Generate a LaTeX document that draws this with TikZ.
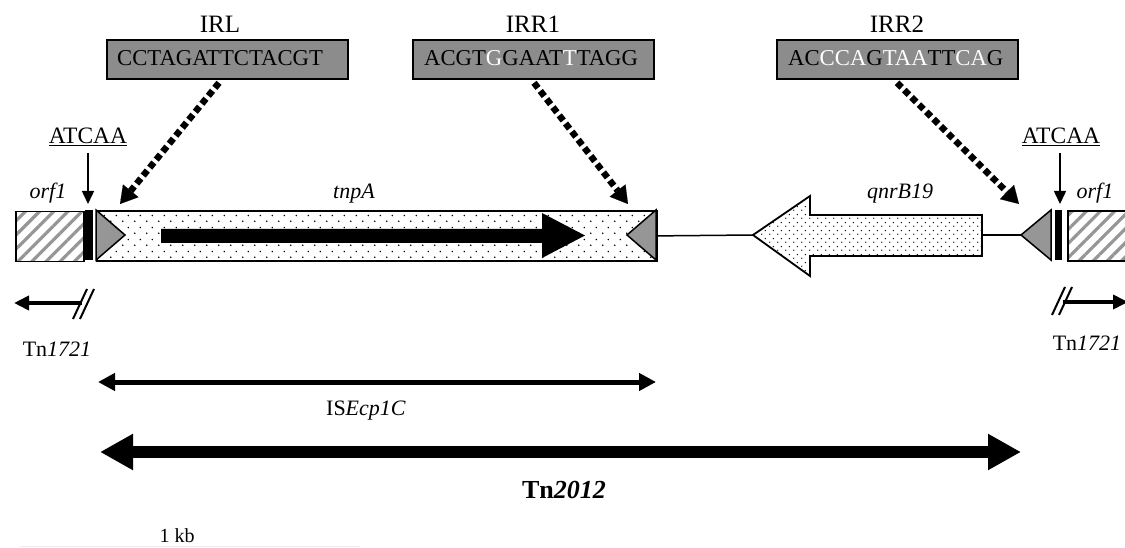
\documentclass[tikz,border=0pt]{standalone}
\usepackage{fontspec}
\setmainfont{Liberation Serif}
\usetikzlibrary{arrows.meta,patterns,patterns.meta}
\definecolor{boxgray}{RGB}{140,140,140}
\definecolor{trigray}{RGB}{150,150,150}
\definecolor{hatchgray}{RGB}{150,150,150}
\pgfdeclarepatternformonly{sparsedots}{\pgfqpoint{0pt}{0pt}}{\pgfqpoint{12pt}{12pt}}{\pgfqpoint{12pt}{12pt}}{%
  \pgfpathcircle{\pgfqpoint{3pt}{3pt}}{0.9pt}%
  \pgfpathcircle{\pgfqpoint{9pt}{9pt}}{0.9pt}%
  \pgfusepath{fill}}
\pgfdeclarepatternformonly{densedots}{\pgfqpoint{0pt}{0pt}}{\pgfqpoint{8pt}{8pt}}{\pgfqpoint{8pt}{8pt}}{%
  \pgfpathcircle{\pgfqpoint{2pt}{2pt}}{0.8pt}%
  \pgfpathcircle{\pgfqpoint{6pt}{6pt}}{0.8pt}%
  \pgfusepath{fill}}
\tikzset{
  txt/.style={inner sep=0pt, anchor=base, font=\fontsize{22}{24}\selectfont},
  irlabel/.style={txt, font=\fontsize{25}{28}\selectfont},
  seqbox/.style={draw, line width=1.8pt, fill=boxgray, minimum width=241pt, minimum height=39pt, inner sep=0pt, anchor=north west},
  seqtext/.style={inner sep=0pt, anchor=west, font=\fontsize{22.7}{24}\selectfont},
  genebox/.style={draw, line width=1.8pt, minimum height=50pt, inner sep=0pt, anchor=north west},
  hatchbox/.style={genebox, pattern={Lines[angle=45,distance=10pt,line width=3.2pt]}, pattern color=hatchgray},
  dotarrow/.style={line width=6.5pt, dash pattern=on 6.5pt off 3.8pt, -{Triangle[length=17pt,width=20pt,line width=0.1pt]}},
  thinarrow/.style={line width=1.5pt, -{Triangle[length=13pt,width=12pt]}},
  irtri/.style={draw, line width=1.5pt, fill=trigray, line join=miter},
  junction/.style={line width=1.5pt},
  isarrow/.style={line width=5pt, {Triangle[length=17pt,width=17pt]}-{Triangle[length=17pt,width=17pt]}},
  tnarrow/.style={line width=12pt, {Triangle[length=33pt,width=34pt]}-{Triangle[length=33pt,width=34pt]}},
  flankarrow/.style={line width=4pt, -{Triangle[length=15pt,width=14pt]}},
  slash/.style={line width=2pt}
}
\begin{document}
\begin{tikzpicture}[x=1pt,y=-1pt]
\useasboundingbox (0,0) rectangle (1125,548);

% sequence boxes
\node[irlabel] (lirl) at (220,33) {IRL};
\node[irlabel] (lirr1) at (533,33) {IRR1};
\node[irlabel] (lirr2) at (897,33) {IRR2};
\node[seqbox] (irl) at (106,39) {};
\node[seqbox] (irr1) at (412,39) {};
\node[seqbox] (irr2) at (776,39) {};
\node[seqtext] (sirl) at ([xshift=11pt,yshift=1pt]irl.west) {CCTAGATTCTACGT};
\node[seqtext] (sirr1) at ([xshift=12pt,yshift=1pt]irr1.west) {ACGT\textcolor{white}{G}GAAT\textcolor{white}{T}TAGG};
\node[seqtext] (sirr2) at ([xshift=12pt,yshift=1pt]irr2.west) {AC\textcolor{white}{CCA}G\textcolor{white}{TAA}TT\textcolor{white}{CA}G};

% gene boxes
\node[hatchbox, minimum width=68pt] (orfL) at (14,210) {};
\fill (85,210) rectangle (93,260);
\node[genebox, minimum width=560pt, pattern=sparsedots] (tnpA) at (96,210) {};
\draw[irtri] (96,210) -- (125,235) -- (96,260) -- cycle;
\draw[irtri] (656,210) -- (627,235) -- (656,260) -- cycle;
\fill (161,229) -- (542,229) -- (542,213) -- (585,235.5) -- (542,258) -- (542,243) -- (161,243) -- cycle;

\coordinate (qtip) at (753,235);
\coordinate (qend) at (982,235);
\draw[line width=1.8pt, pattern=densedots, line join=miter] (qtip) -- (810,196) -- (810,215) -- (982,215) -- (982,256) -- (810,256) -- (810,276) -- cycle;
\coordinate (rtip) at (1021,235);
\draw[irtri] (1051,210) -- (rtip) -- (1051,260) -- cycle;
\fill (1055,210) rectangle (1062,260);
\node[hatchbox, minimum width=80pt] (orfR) at (1067,210) {};

\draw[junction] (tnpA.east) -- (qtip);
\draw[junction] (qend) -- (rtip);

% gene labels
\node[txt] (lorfL) at (48,199) {\textit{orf1}};
\node[txt] (ltnpA) at (354,199) {\textit{tnpA}};
\node[txt] (lqnr) at (900,199) {\textit{qnrB19}};
\node[txt] (lorfR) at (1095,199) {\textit{orf1}};

% ATCAA
\node[txt, font=\fontsize{23.5}{26}\selectfont] (atL) at (88,144) {\underline{ATCAA}};
\node[txt, font=\fontsize{23.5}{26}\selectfont] (atR) at (1061,144) {\underline{ATCAA}};
\coordinate (atLt) at (88,204);
\coordinate (atRt) at (1060,204);
\draw[thinarrow] (88,153) -- (atLt);
\draw[thinarrow] (1060,153) -- (atRt);

% dotted arrows
\coordinate (tIRL) at (120,204);
\coordinate (tIRR1) at (628,204);
\coordinate (tIRR2) at (1019,204);
\draw[dotarrow] (irl.south -| 219,0) ++(0,3) -- (tIRL);
\draw[dotarrow] (irr1.south -| 534,0) ++(0,3) -- (tIRR1);
\draw[dotarrow] (irr2.south -| 897,0) ++(0,3) -- (tIRR2);

% flanking Tn1721
\coordinate (fLs) at (82,303);
\coordinate (fLe) at (14,303);
\draw[flankarrow] (fLs) -- (fLe);
\draw[slash] (73,319) -- (87,289);
\draw[slash] (80,319) -- (94,289);
\node[txt] (tnL) at (57,356) {Tn\textit{1721}};
\coordinate (fRs) at (1063,302);
\coordinate (fRe) at (1128,302);
\draw[flankarrow] (fRs) -- (fRe);
\draw[slash] (1052,315) -- (1065,287);
\draw[slash] (1059,315) -- (1072,287);
\node[txt] (tnR) at (1087,350) {Tn\textit{1721}};

% ISEcp1C and Tn2012
\coordinate (isL) at (98,382);
\coordinate (isR) at (656,382);
\draw[isarrow] (isL) -- (isR);
\node[txt] (lis) at (366,415) {IS\textit{Ecp1C}};
\coordinate (tnAL) at (100,452);
\coordinate (tnAR) at (1021,452);
\draw[tnarrow] (tnAL) -- (tnAR);
\node[txt, font=\fontsize{26}{28}\selectfont\bfseries] (ltn) at (564,498) {Tn\textit{2012}};

% scale
\node[txt, font=\fontsize{20}{24}\selectfont] (kb) at (177,542) {1 kb};
\coordinate (sbL) at (20,546);
\coordinate (sbR) at (360,546);
\draw[black!7, line width=1pt] (sbL) -- (sbR);
\end{tikzpicture}
\end{document}
